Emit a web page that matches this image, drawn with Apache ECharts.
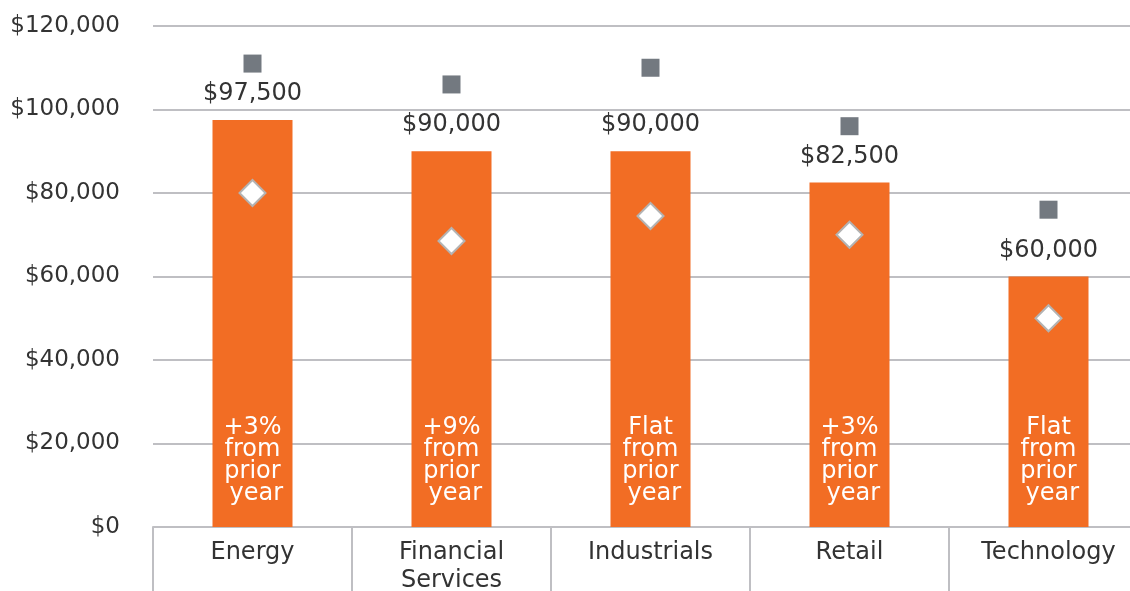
<!DOCTYPE html>
<html><head><meta charset="utf-8">
<script src="https://cdn.jsdelivr.net/npm/echarts@6/dist/echarts.min.js"></script>
<style>html,body{margin:0;padding:0;background:#fff}#c{width:1130px;height:591px}</style>
</head><body><div id="c"></div>
<script>
const categories = ['Energy', 'Financial\nServices', 'Industrials', 'Retail', 'Technology'];
const medianValues = [97500, 90000, 90000, 82500, 60000];
const changeLabels = ['+3%\nfrom\nprior\n year', '+9%\nfrom\nprior\n year', 'Flat\nfrom\nprior\n year', '+3%\nfrom\nprior\n year', 'Flat\nfrom\nprior\n year'];
const highValues = [111000, 106000, 110000, 96000, 76000];
const lowValues = [80000, 68500, 74500, 70000, 50000];
const yTicks = { min: 0, max: 120000, interval: 20000 };

const FONT = 'DejaVu Sans';
const chart = echarts.init(document.getElementById('c'), null, { renderer: 'canvas' });
const fmt = v => '$' + v.toLocaleString('en-US');
chart.setOption({
  animation: false,
  grid: { left: 153, right: -18, top: 26, bottom: 64, containLabel: false, outerBoundsMode: 'none' },
  xAxis: {
    type: 'category', data: categories, boundaryGap: true,
    axisLine: { lineStyle: { color: '#bfbfc3', width: 2 } },
    axisTick: { show: true, length: 64, interval: 0, lineStyle: { color: '#bfbfc3', width: 2 } },
    axisLabel: { color: '#333', fontFamily: FONT, fontSize: 24, margin: 12, lineHeight: 28, interval: 0 }
  },
  yAxis: {
    type: 'value', min: yTicks.min, max: yTicks.max, interval: yTicks.interval,
    axisLine: { show: false }, axisTick: { show: false },
    splitLine: { lineStyle: { color: '#bfbfc3', width: 2 } },
    axisLabel: { color: '#333', fontFamily: FONT, fontSize: 23, margin: 33, formatter: v => fmt(v) }
  },
  series: [
    {
      type: 'bar', data: medianValues, barWidth: 80, z: 2,
      itemStyle: { color: '#f26d24' },
      label: {
        show: true, position: 'insideBottom', distance: 22,
        color: '#fff', fontFamily: FONT, fontSize: 24, lineHeight: 22,
        formatter: p => changeLabels[p.dataIndex]
      }
    },
    {
      type: 'bar', data: medianValues, barWidth: 80, barGap: '-100%', z: 3,
      itemStyle: { color: 'rgba(0,0,0,0)' },
      label: {
        show: true, position: 'top', distance: 14,
        color: '#333', fontFamily: FONT, fontSize: 24,
        formatter: p => fmt(p.value)
      }
    },
    {
      type: 'scatter', data: highValues, symbol: 'rect', symbolSize: 18, z: 5,
      itemStyle: { color: '#737980', opacity: 1 }
    },
    {
      type: 'scatter', data: lowValues, symbol: 'diamond', symbolSize: [26, 26], z: 5,
      itemStyle: { color: '#fff', borderColor: '#b3b3b3', borderWidth: 2, opacity: 1 }
    }
  ]
});
</script></body></html>
